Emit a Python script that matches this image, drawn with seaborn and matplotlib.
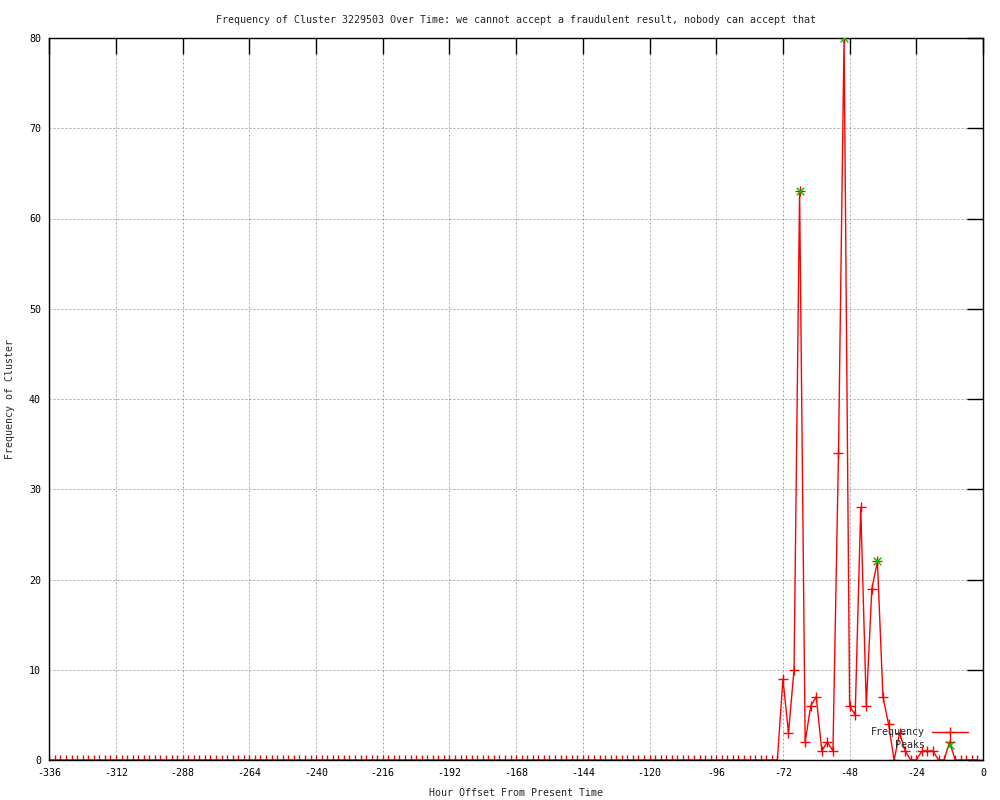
import matplotlib
matplotlib.use("Agg")
import matplotlib.pyplot as plt
import seaborn as sns
import pandas as pd
from matplotlib.lines import Line2D

# hour offsets, one reading every 2 hours
hours = list(range(-336, 0, 2))

# frequency per reading (132 zero readings, then the active window -72..-2)
frequency = [
    0, 0, 0, 0, 0, 0, 0, 0, 0, 0, 0, 0, 0, 0, 0, 0, 0, 0, 0, 0,
    0, 0, 0, 0, 0, 0, 0, 0, 0, 0, 0, 0, 0, 0, 0, 0, 0, 0, 0, 0,
    0, 0, 0, 0, 0, 0, 0, 0, 0, 0, 0, 0, 0, 0, 0, 0, 0, 0, 0, 0,
    0, 0, 0, 0, 0, 0, 0, 0, 0, 0, 0, 0, 0, 0, 0, 0, 0, 0, 0, 0,
    0, 0, 0, 0, 0, 0, 0, 0, 0, 0, 0, 0, 0, 0, 0, 0, 0, 0, 0, 0,
    0, 0, 0, 0, 0, 0, 0, 0, 0, 0, 0, 0, 0, 0, 0, 0, 0, 0, 0, 0,
    0, 0, 0, 0, 0, 0, 0, 0, 0, 0, 0, 0,
    9, 3, 10, 63, 2, 6, 7, 1, 2, 1, 34, 80, 6, 5, 28, 6, 19, 22,
    7, 4, 0, 3, 1, 0, 0, 1, 1, 1, 0, 0, 2, 0, 0, 0, 0, 0,
]

peak_hours = [-66, -50, -38]
peak_values = [63, 80, 22]

x_ticks = [-336, -312, -288, -264, -240, -216, -192, -168, -144, -120, -96, -72, -48, -24, 0]
y_ticks = [0, 10, 20, 30, 40, 50, 60, 70, 80]

title = "Frequency of Cluster 3229503 Over Time: we cannot accept a fraudulent result, nobody can accept that"

df = pd.DataFrame({"hour": hours, "freq": frequency})
peaks = pd.DataFrame({"hour": peak_hours, "freq": peak_values})

sns.set_style("white")
plt.rcParams["font.family"] = ["DejaVu Sans Mono"]
plt.rcParams["axes.unicode_minus"] = False

fig = plt.figure(figsize=(10, 8), dpi=100)
ax = fig.add_axes([0.0493, 0.05, 0.9337, 0.9025])

red = "#ff0000"
green = "#00c000"

sns.lineplot(data=df, x="hour", y="freq", ax=ax, color=red, linewidth=1,
             marker="+", markersize=7, markeredgewidth=1, markeredgecolor=red)
sns.scatterplot(data=peaks, x="hour", y="freq", ax=ax, color=green,
                marker="x", s=30, linewidth=1, zorder=3)

ax.set_xlim(-336, 0)
ax.set_ylim(0, 80)
ax.set_xticks(x_ticks)
ax.set_yticks(y_ticks)

ax.grid(True, color="#a8a8a8", linewidth=0.72, linestyle=(0, (2, 2)))
for s in ax.spines.values():
    s.set_color("black")
    s.set_linewidth(1)

ax.tick_params(direction="in", length=11.5, width=1, colors="black",
               top=True, right=True, labelsize=7.2, pad=6)

ax.set_title(title, fontsize=7.2, pad=11)
ax.set_xlabel("Hour Offset From Present Time", fontsize=7.2, labelpad=7)
ax.set_ylabel("Frequency of Cluster", fontsize=7.2, labelpad=10)

handles = [
    Line2D([], [], color=red, linewidth=1, marker="+", markersize=7),
    Line2D([], [], color=green, linestyle="", marker="x", markersize=6),
]
ax.legend(handles, ["Frequency", "Peaks"], loc="lower right", frameon=False,
          markerfirst=False, fontsize=7.2, handlelength=3.6, handletextpad=0.7,
          labelspacing=0.3, borderaxespad=0.6, bbox_to_anchor=(0.995, 0.0))

fig.savefig("out.png", dpi=100)
